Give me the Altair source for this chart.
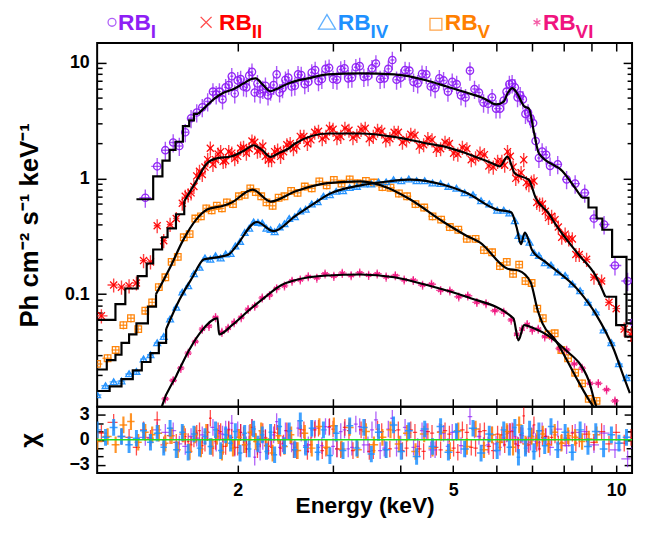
import altair as alt
import numpy as np
import pandas as pd

# ---------------- series / styling ----------------
SERIES = ["RB_I", "RB_II", "RB_IV", "RB_V", "RB_VI"]
SUBS = ["I", "II", "IV", "V", "VI"]
LEGEND_BASE = "RB"
COLORS = ["#8E1EF5", "#FF0000", "#1E90FF", "#FF8000", "#F0147F"]
SHAPES = ["circle", "M-1,-1L1,1M-1,1L1,-1", "M-1,0.8L0,-0.9L1,0.8Z", "square",
          "M0,-1L0,1M-0.87,-0.5L0.87,0.5M-0.87,0.5L0.87,-0.5"]
SIZES = [55, 40, 42, 46, 44]
REL_ERR = {"RB_I": 0.18, "RB_II": 0.14, "RB_IV": 0.05, "RB_V": 0.08, "RB_VI": 0.09}

# ---------------- data points (energy keV, flux, chi) ----------------
E_I = [1.35, 1.42, 1.47, 1.52, 1.56, 1.60, 1.64, 1.68, 1.72, 1.76,
       1.80, 1.85, 1.90, 1.95, 2.00, 2.05, 2.10, 2.15, 2.20, 2.25,
       2.30, 2.36, 2.42, 2.48, 2.55, 2.62, 2.70, 2.78, 2.86, 2.95,
       3.05, 3.15, 3.25, 3.36, 3.48, 3.60, 3.73, 3.86, 4.00, 4.15,
       4.30, 4.46, 4.63, 4.80, 4.98, 5.17, 5.37, 5.58, 5.80, 6.00,
       6.20, 6.35, 6.50, 6.65, 6.80, 6.95, 7.10, 7.30, 7.55, 7.80,
       8.10, 8.40, 8.75, 9.10, 9.50, 9.95, 10.5, 10.78]
F_I = [0.68, 1.27, 1.75, 2.04, 1.9, 2.5, 3.3, 3.7, 4.1, 4.6,
       5.6, 5.6, 6.1, 7.6, 7.0, 6.2, 7.7, 5.5, 5.4, 6.3,
       5.7, 7.9, 6.0, 7.4, 6.3, 7.8, 6.8, 8.6, 7.2, 9.0,
       7.1, 8.9, 7.4, 9.3, 7.6, 9.8, 7.3, 10.5, 7.4, 8.5,
       6.6, 7.9, 6.0, 7.0, 6.8, 5.2, 8.5, 5.5, 4.4, 4.0,
       4.7, 6.5, 6.1, 5.2, 3.6, 3.3, 2.1, 1.7, 1.28, 1.32,
       0.98, 0.9, 0.75, 0.45, 0.4, 0.177, 0.13, 0.057]
CHI_I = [0.3, 1.2, 0.9, 1.1, -0.5, -0.8, 0.4, 0.2, 0.6, 0.9,
         1.5, 0.8, 1.3, 2.0, 1.2, -0.6, 0.8, -2.1, -1.5, 0.3,
         0.1, 2.2, -0.5, 1.0, -0.9, 0.8, -0.6, 1.4, -0.7, 1.5,
         -1.1, 1.2, -0.9, 1.6, -0.6, 2.4, -1.0, 2.6, -0.5, 1.1,
         -0.8, 1.0, -1.2, 0.8, 0.9, -0.7, 2.8, 0.4, -0.6, -0.5,
         0.2, 1.0, 0.4, 0.6, -0.8, -0.3, -0.2, 1.1, -0.9, 1.3,
         -0.7, 0.9, 1.0, -0.6, 0.8, -1.2, -2.3, -1.0]
E_I_B = [1.825, 1.875, 1.925, 1.975, 2.025, 2.075, 2.125, 2.175, 2.225, 2.275,
         2.33, 2.39, 2.45, 2.515, 2.585, 2.66, 2.74, 2.82, 2.905, 3.00,
         3.10, 3.20, 3.305, 3.42, 3.54, 3.665, 3.795, 3.93, 4.075, 4.225,
         4.38, 4.545, 4.715, 4.89, 5.075, 5.27, 5.475, 5.69, 5.90, 6.10,
         6.275, 6.425, 6.575, 6.725, 6.875, 7.025, 7.20, 7.425]
F_I_B = [5.3, 4.8, 6.4, 5.4, 7.2, 6.1, 8.3, 6.6, 5.9, 5.2,
         6.4, 5.5, 7.1, 6.2, 7.9, 6.5, 8.2, 6.9, 8.8, 7.2,
         8.7, 7.3, 9.1, 7.5, 8.9, 7.2, 8.8, 7.1, 8.6, 6.8,
         8.0, 6.2, 7.3, 5.6, 6.5, 5.0, 5.9, 4.5, 5.0, 4.0,
         5.6, 6.6, 5.0, 4.8, 3.7, 3.0, 1.5, 1.6]
CHI_I_B = [-0.4, 0.7, 1.3, -1.0, 0.9, -0.6, 1.5, -0.8, -0.2, -1.3,
           0.6, -0.9, 1.1, -0.5, 1.4, -0.7, 1.2, -0.9, 1.6, -0.8,
           1.0, -1.1, 1.9, -0.6, 1.2, -1.3, 1.3, -1.0, 1.5, -0.9,
           1.1, -1.2, 1.0, -0.8, 0.9, -1.1, 1.2, -0.7, 0.6, -0.9,
           0.7, 1.1, -0.6, 0.5, -0.5, 0.8, -0.3, 0.4]

E_II = [1.12, 1.18, 1.22, 1.26, 1.30, 1.34, 1.38, 1.42, 1.46, 1.50,
        1.54, 1.58, 1.62, 1.66, 1.70, 1.74, 1.78, 1.82, 1.86, 1.90,
        1.95, 2.00, 2.05, 2.10, 2.15, 2.20, 2.25, 2.31, 2.37, 2.43,
        2.50, 2.57, 2.65, 2.73, 2.82, 2.91, 3.00, 3.10, 3.21, 3.32,
        3.44, 3.56, 3.69, 3.82, 3.96, 4.10, 4.25, 4.41, 4.57, 4.74,
        4.92, 5.10, 5.30, 5.50, 5.71, 5.93, 6.15, 6.30, 6.45, 6.60,
        6.75, 6.90, 7.05, 7.22, 7.40, 7.60, 7.82, 8.05, 8.30, 8.55,
        8.82, 9.10, 9.40, 9.70, 10.0, 10.35, 10.65]
F_II = [0.065, 0.12, 0.115, 0.118, 0.125, 0.195, 0.19, 0.39, 0.29, 0.40,
        0.45, 0.61, 0.72, 0.85, 1.15, 1.25, 1.82, 1.45, 1.7, 1.42,
        1.65, 1.55, 1.85, 1.8, 2.05, 1.75, 1.55, 1.45, 1.75, 1.7,
        2.0, 1.9, 2.3, 2.15, 2.55, 2.3, 2.65, 2.3, 2.6, 2.35,
        2.7, 2.3, 2.55, 2.2, 2.5, 2.15, 2.35, 1.95, 2.15, 1.8,
        2.0, 1.62, 1.8, 1.5, 1.6, 1.25, 1.4, 1.7, 1.25, 1.05,
        1.45, 0.88, 0.95, 0.6, 0.52, 0.47, 0.38, 0.33, 0.3, 0.22,
        0.2, 0.14, 0.13, 0.085, 0.075, 0.05, 0.045]
CHI_II = [0.8, 2.1, 0.4, 0.3, -0.9, 1.2, 0.2, 2.4, -0.6, 0.5,
          -0.3, 0.7, -0.2, 0.1, 1.1, -0.4, 2.6, -0.2, 1.0, -0.8,
          0.3, -0.9, 0.6, -0.5, 0.7, 0.1, 0.2, -0.9, 0.8, -0.4,
          0.5, -1.3, 1.2, -0.6, 1.4, -1.0, 1.3, -1.2, 1.1, -0.9,
          1.5, -1.3, 1.0, -1.1, 1.2, -1.0, 0.9, -1.4, 0.8, -1.2,
          0.7, -1.5, 0.9, -1.0, 1.1, -1.3, 0.6, 0.8, 1.0, -0.7,
          2.9, -0.6, 1.8, -1.1, 0.4, 0.3, -0.5, 0.2, 0.8, 0.1,
          0.7, -0.3, 1.0, -0.5, 0.9, -0.4, 0.3]
E_II_B = [1.60, 1.64, 1.68, 1.72, 1.76, 1.80, 1.84, 1.88, 1.925, 1.975,
          2.025, 2.075, 2.125, 2.175, 2.225, 2.28, 2.34, 2.40, 2.465, 2.535,
          2.61, 2.69, 2.775, 2.865, 2.955, 3.05, 3.155, 3.265, 3.38, 3.50,
          3.625, 3.755, 3.89, 4.03, 4.175, 4.33, 4.49, 4.655, 4.83, 5.01,
          5.20, 5.40, 5.605, 5.82, 6.04, 6.225, 6.375, 6.525, 6.675, 6.825,
          6.975, 7.135, 7.31, 7.50, 7.71, 7.935, 8.175, 8.425]
F_II_B = [0.7, 0.75, 1.05, 1.08, 1.45, 1.32, 1.62, 1.4, 1.7, 1.48,
          1.82, 1.65, 2.1, 1.72, 1.9, 1.45, 1.7, 1.55, 1.95, 1.8,
          2.3, 2.0, 2.5, 2.2, 2.7, 2.25, 2.7, 2.25, 2.65, 2.2,
          2.6, 2.15, 2.5, 2.05, 2.4, 1.9, 2.2, 1.78, 2.05, 1.65,
          1.85, 1.45, 1.65, 1.28, 1.4, 1.3, 1.55, 1.0, 1.12, 0.92,
          0.93, 0.62, 0.6, 0.46, 0.44, 0.31, 0.3, 0.22]
CHI_II_B = [0.4, -0.6, 0.8, -0.7, 0.9, -1.0, 1.1, -0.8, 1.2, -0.9,
            0.9, -1.1, 1.5, -1.2, 1.0, -0.8, 0.9, -1.0, 1.1, -1.2,
            1.3, -1.4, 1.2, -1.3, 1.6, -1.1, 1.5, -1.3, 1.2, -1.4,
            1.3, -1.2, 1.1, -1.3, 1.2, -1.1, 1.0, -0.9, 1.1, -1.0,
            1.2, -0.9, 1.0, -0.8, 0.7, -0.6, 1.0, -0.5, 0.6, -0.7,
            0.5, -0.4, 0.3, -0.5, 0.6, -0.3, 0.2, -0.4]

E_IV = [1.10, 1.14, 1.18, 1.22, 1.26, 1.30, 1.34, 1.38, 1.42, 1.46,
        1.50, 1.54, 1.58, 1.62, 1.66, 1.70, 1.74, 1.78, 1.82, 1.86,
        1.90, 1.94, 1.98, 2.02, 2.06, 2.10, 2.14, 2.18, 2.22, 2.26,
        2.30, 2.34, 2.39, 2.44, 2.49, 2.55, 2.61, 2.67, 2.74, 2.81,
        2.88, 2.96, 3.04, 3.13, 3.22, 3.32, 3.42, 3.53, 3.64, 3.76,
        3.88, 4.01, 4.14, 4.28, 4.43, 4.58, 4.74, 4.90, 5.07, 5.25,
        5.44, 5.63, 5.83, 6.03, 6.20, 6.35, 6.50, 6.60, 6.70, 6.80,
        6.92, 7.05, 7.20, 7.38, 7.58, 7.80, 8.05, 8.30, 8.58, 8.87,
        9.17, 9.48, 9.80, 10.12, 10.45]
F_IV = [0.0135, 0.0162, 0.0175, 0.0178, 0.0205, 0.0215, 0.0275, 0.030, 0.038, 0.043,
        0.061, 0.077, 0.104, 0.118, 0.15, 0.17, 0.205, 0.2, 0.214, 0.205,
        0.222, 0.224, 0.26, 0.285, 0.34, 0.37, 0.42, 0.415, 0.41, 0.37,
        0.36, 0.345, 0.38, 0.405, 0.45, 0.465, 0.52, 0.54, 0.6, 0.625,
        0.70, 0.72, 0.77, 0.78, 0.83, 0.85, 0.89, 0.89, 0.93, 0.93,
        0.97, 0.95, 0.985, 0.95, 0.95, 0.91, 0.9, 0.85, 0.82, 0.75,
        0.72, 0.64, 0.6, 0.53, 0.53, 0.5, 0.43, 0.32, 0.3, 0.32,
        0.28, 0.228, 0.215, 0.186, 0.178, 0.155, 0.145, 0.122, 0.107, 0.085,
        0.07, 0.049, 0.038, 0.025, 0.019]
CHI_IV = [1.2, 0.3, 1.5, 0.4, -0.6, 0.2, 1.1, -0.3, 0.8, -0.9,
          1.4, -1.2, 0.9, -1.5, 0.7, -1.0, 0.4, -0.8, 1.2, -1.3,
          0.6, -0.4, 1.0, -1.6, 0.8, -1.1, 1.3, -0.5, 0.6, -1.4,
          0.9, -1.8, 1.6, -0.7, 1.1, -1.2, 2.3, -0.9, 1.4, -1.5,
          1.2, -1.9, 0.8, -1.3, 1.7, -1.0, 1.5, -1.7, 0.9, -1.2,
          1.8, -1.4, 1.1, -2.0, 1.3, -0.8, 1.6, -1.5, 1.0, -1.1,
          1.4, -1.6, 0.7, -1.3, 1.2, -0.9, 1.5, -2.1, 0.8, -1.0,
          1.3, -1.4, 1.1, -0.7, 1.6, -1.2, 0.9, -1.5, 1.2, -0.8,
          1.0, -1.1, 0.6, -0.4, 0.3]

E_V = [1.10, 1.15, 1.19, 1.23, 1.27, 1.31, 1.35, 1.39, 1.43, 1.47,
       1.51, 1.55, 1.59, 1.63, 1.67, 1.71, 1.75, 1.79, 1.83, 1.87,
       1.91, 1.96, 2.01, 2.06, 2.11, 2.16, 2.21, 2.26, 2.32, 2.38,
       2.44, 2.51, 2.58, 2.66, 2.74, 2.83, 2.92, 3.01, 3.11, 3.22,
       3.33, 3.45, 3.57, 3.70, 3.83, 3.97, 4.11, 4.26, 4.42, 4.58,
       4.75, 4.93, 5.11, 5.30, 5.50, 5.70, 5.90, 6.10, 6.28, 6.45,
       6.62, 6.80, 6.98, 7.15, 7.32, 7.50, 7.70, 7.92, 8.15, 8.40,
       8.65, 8.90, 9.20]
F_V = [0.025, 0.028, 0.033, 0.054, 0.062, 0.05, 0.072, 0.085, 0.115, 0.14,
       0.19, 0.21, 0.31, 0.33, 0.45, 0.47, 0.55, 0.53, 0.58, 0.55,
       0.62, 0.6, 0.7, 0.72, 0.82, 0.76, 0.7, 0.62, 0.58, 0.68,
       0.7, 0.78, 0.75, 0.85, 0.82, 0.94, 0.87, 0.97, 0.9, 0.98,
       0.91, 0.95, 0.92, 0.84, 0.83, 0.74, 0.7, 0.6, 0.56, 0.47,
       0.44, 0.38, 0.36, 0.3, 0.3, 0.24, 0.23, 0.175, 0.19, 0.15,
       0.18, 0.13, 0.125, 0.075, 0.062, 0.045, 0.046, 0.033, 0.028, 0.021,
       0.017, 0.0125, 0.012]
CHI_V = [-0.2, 0.4, -0.6, 1.8, 2.2, -0.3, 0.9, 0.6, 0.8, -0.4,
         0.5, -1.2, 0.7, -1.4, 0.6, -1.1, 0.9, -0.8, 0.4, -1.5,
         0.2, -1.0, 0.3, -0.6, 0.9, -0.2, 1.1, -0.7, -1.6, 0.5,
         -0.8, 0.6, -1.3, 0.8, -1.0, 1.6, -0.9, 1.7, -1.1, 1.5,
         -1.2, 1.0, -0.6, 0.3, 1.2, -0.5, 0.8, -1.4, 0.7, -1.0,
         0.9, -1.3, 1.1, -0.8, 1.3, -1.2, 0.6, -0.3, 1.0, -0.9,
         1.8, -0.5, 0.4, 0.2, 0.7, -0.6, 0.9, -0.4, 0.5, 0.3,
         -0.2, 0.1, 0.6]

E_VI = [1.47, 1.52, 1.57, 1.62, 1.67, 1.72, 1.77, 1.82, 1.87, 1.92,
        1.97, 2.03, 2.09, 2.15, 2.22, 2.29, 2.36, 2.44, 2.52, 2.61,
        2.70, 2.80, 2.90, 3.01, 3.12, 3.24, 3.36, 3.49, 3.62, 3.76,
        3.91, 4.06, 4.22, 4.39, 4.56, 4.74, 4.93, 5.12, 5.32, 5.53,
        5.75, 5.97, 6.20, 6.40, 6.55, 6.70, 6.85, 7.00, 7.18, 7.38,
        7.60, 7.85, 8.10, 8.37, 8.65, 8.95, 9.27, 9.60, 9.95]
F_VI = [0.0125, 0.018, 0.023, 0.031, 0.039, 0.05, 0.053, 0.063, 0.047, 0.051,
        0.057, 0.063, 0.074, 0.079, 0.093, 0.098, 0.112, 0.118, 0.13, 0.133,
        0.142, 0.138, 0.15, 0.143, 0.152, 0.145, 0.153, 0.146, 0.15, 0.141,
        0.145, 0.133, 0.132, 0.12, 0.122, 0.108, 0.107, 0.095, 0.097, 0.085,
        0.083, 0.072, 0.07, 0.06, 0.045, 0.05, 0.055, 0.049, 0.05, 0.043,
        0.042, 0.034, 0.033, 0.025, 0.023, 0.017, 0.017, 0.015, 0.012]

# ---------------- folded model curves ----------------
STEP_LO = {
    "RB_I": ([1.30, 1.396, 1.452, 1.497, 1.535, 1.584, 1.627, 1.66, 1.69],
             [0.66, 1.04, 1.42, 1.76, 2.07, 2.82, 3.16, 3.6, 3.6]),
    "RB_II": ([1.099, 1.189, 1.24, 1.307, 1.358, 1.396, 1.45, 1.484, 1.538, 1.593],
              [0.06, 0.082, 0.112, 0.143, 0.184, 0.243, 0.31, 0.37, 0.49, 0.635]),
    "RB_IV": ([1.099, 1.16, 1.22, 1.28, 1.33, 1.38, 1.43, 1.475],
              [0.0146, 0.016, 0.0185, 0.022, 0.026, 0.031, 0.038, 0.05]),
    "RB_V": ([1.099, 1.146, 1.189, 1.22, 1.26, 1.30, 1.365, 1.413],
             [0.0224, 0.027, 0.030, 0.038, 0.045, 0.056, 0.078, 0.1]),
}
STEP_HI = {
    "RB_I": ([8.65, 8.89, 9.2, 9.43, 9.83, 10.45, 10.8],
             [0.68, 0.56, 0.45, 0.36, 0.21, 0.056, 0.056]),
    "RB_II": ([9.55, 10.0, 10.4, 10.8], [0.095, 0.054, 0.043, 0.043]),
}
SMOOTH = {
    "RB_I": ([1.69, 1.75, 1.807, 1.886, 1.966, 2.05, 2.12, 2.16, 2.22, 2.30,
              2.36, 2.48, 2.554, 2.7, 2.934, 3.373, 3.892, 4.472, 4.864, 5.29,
              5.7, 6.005, 6.2, 6.3, 6.43, 6.55, 6.76, 6.9, 7.05, 7.2,
              7.96, 8.52, 8.65],
             [3.6, 4.2, 4.83, 5.5, 5.9, 6.6, 7.2, 7.3, 6.5, 5.65,
              5.9, 6.6, 6.9, 7.3, 7.9, 8.05, 7.9, 7.0, 6.2, 5.5,
              4.9, 4.35, 4.6, 5.4, 6.0, 5.5, 4.2, 4.0, 2.5, 1.64,
              1.15, 0.75, 0.68]),
    "RB_II": ([1.593, 1.68, 1.75, 1.82, 1.95, 2.06, 2.14, 2.22, 2.30, 2.38,
               2.48, 2.554, 2.934, 3.37, 3.89, 4.47, 4.86, 5.29, 5.9, 6.1,
               6.3, 6.5, 6.9, 7.1, 7.5, 7.73, 8.52, 9.16, 9.55],
              [0.635, 0.96, 1.33, 1.48, 1.55, 1.75, 1.93, 1.75, 1.53, 1.65,
               1.8, 2.0, 2.44, 2.44, 2.28, 2.0, 1.86, 1.64, 1.35, 1.27,
               1.54, 1.1, 0.97, 0.68, 0.5, 0.40, 0.22, 0.145, 0.095]),
    "RB_IV": ([1.475, 1.56, 1.65, 1.733, 1.852, 1.924, 1.98, 2.17, 2.33, 2.55,
               2.81, 2.93, 3.37, 3.78, 4.16, 4.8, 5.29, 6.0, 6.4, 6.55,
               6.67, 6.78, 7.0, 7.4, 8.52, 9.16, 9.91, 10.3, 10.6],
              [0.05, 0.089, 0.14, 0.2, 0.21, 0.22, 0.254, 0.42, 0.35, 0.47,
               0.635, 0.72, 0.87, 0.94, 0.975, 0.88, 0.75, 0.54, 0.51, 0.376,
               0.27, 0.34, 0.238, 0.19, 0.108, 0.068, 0.033, 0.02, 0.014]),
    "RB_V": ([1.413, 1.5, 1.584, 1.676, 1.76, 1.88, 1.95, 2.13, 2.30, 2.55,
              2.93, 3.37, 3.78, 4.16, 4.8, 5.29, 5.6, 6.3, 6.6, 6.95,
              7.16, 7.31, 7.73, 8.41, 8.89, 9.1, 9.4],
             [0.1, 0.17, 0.29, 0.44, 0.54, 0.58, 0.62, 0.8, 0.63, 0.77,
              0.91, 0.94, 0.83, 0.66, 0.42, 0.32, 0.28, 0.166, 0.16, 0.127,
              0.073, 0.056, 0.040, 0.0196, 0.0124, 0.0105, 0.008]),
    "RB_VI": ([1.43, 1.453, 1.539, 1.627, 1.72, 1.835, 1.848, 1.952, 2.1, 2.25,
               2.41, 2.55, 2.93, 3.37, 3.89, 4.47, 5.29, 6.46, 6.6, 6.76,
               7.03, 7.97, 8.9, 9.1, 9.3],
              [0.0085, 0.0112, 0.0196, 0.033, 0.049, 0.062, 0.045, 0.054, 0.073, 0.095,
               0.12, 0.132, 0.145, 0.148, 0.14, 0.12, 0.095, 0.062, 0.04, 0.054,
               0.051, 0.0346, 0.018, 0.0124, 0.009]),
}

# ---------------- tick values ----------------
X_TICKS = [2, 3, 4, 5, 6, 7, 8, 9, 10]
X_LABELS = [2, 5, 10]
Y_TICKS = [0.02, 0.03, 0.04, 0.05, 0.06, 0.07, 0.08, 0.09, 0.1,
           0.2, 0.3, 0.4, 0.5, 0.6, 0.7, 0.8, 0.9, 1,
           2, 3, 4, 5, 6, 7, 8, 9, 10]
Y_LABELS = [0.1, 1, 10]
R_TICKS = [-3, -2, -1, 0, 1, 2, 3]
R_LABELS = [-3, 0, 3]

# ---------------- layout constants ----------------
W, H1, H2 = 540, 367, 67
X_DOMAIN = [1.1, 10.70]
Y_DOMAIN = [0.0107, 14.7]
R_DOMAIN = [-4, 4]
FONT = "Liberation Sans"
LEG_SYM_X = [15, 110, 232, 342, 444]
LEG_RB_X = [21, 123, 243, 351, 450]
LEG_SUB_X = [54, 156, 276, 384, 483]
LEG_SYM_SIZE = [64, 121, 300, 144, 64]


def bin_edges(E):
    E = np.asarray(E, dtype=float)
    mid = np.sqrt(E[:-1] * E[1:])
    lo = np.concatenate([[E[0] ** 2 / mid[0]], mid])
    hi = np.concatenate([mid, [E[-1] ** 2 / mid[-1]]])
    return lo, hi


DATA = {
    "RB_I": [(E_I, F_I, CHI_I), (E_I_B, F_I_B, CHI_I_B)],
    "RB_II": [(E_II, F_II, CHI_II), (E_II_B, F_II_B, CHI_II_B)],
    "RB_IV": [(E_IV, F_IV, CHI_IV)],
    "RB_V": [(E_V, F_V, CHI_V)],
    "RB_VI": [(E_VI, F_VI, [None] * len(E_VI))],
}


def merged(s):
    rows = [(e, f, c) for (E, F, C) in DATA[s] for e, f, c in zip(E, F, C)]
    rows.sort(key=lambda r: r[0])
    return rows


pts_rows, res_rows = [], []
for s in ["RB_I", "RB_II", "RB_V", "RB_IV", "RB_VI"]:
    rows = merged(s)
    lo, hi = bin_edges([r[0] for r in rows])
    e = REL_ERR[s]
    for i, (x, f, c) in enumerate(rows):
        pts_rows.append(dict(series=s, E=x, F=f, Elo=lo[i], Ehi=hi[i],
                             Flo=f * (1 - e), Fhi=f * (1 + e)))
        if c is not None:
            res_rows.append(dict(series=s, E=x, Elo=lo[i], Ehi=hi[i], chi=c,
                                 clo=c - 1, chi_hi=c + 1))
pts = pd.DataFrame(pts_rows)
res = pd.DataFrame(res_rows)
res_back = res[res["series"].isin(["RB_I", "RB_II"])].reset_index(drop=True)
res_orange = res[res["series"] == "RB_V"].reset_index(drop=True)
res_blue = res[res["series"] == "RB_IV"].reset_index(drop=True)

step_rows = []
for d, tag in ((STEP_LO, "lo"), (STEP_HI, "hi")):
    for s, (E, F) in d.items():
        for x, f in zip(E, F):
            step_rows.append(dict(seg=s + tag, E=x, F=f))
steps = pd.DataFrame(step_rows)
smooth = pd.DataFrame([dict(series=s, E=x, F=f)
                       for s, (E, F) in SMOOTH.items() for x, f in zip(E, F)])

# ---------------- scales / encodings ----------------
XS = alt.Scale(type="log", domain=X_DOMAIN, nice=False)
YS = alt.Scale(type="log", domain=Y_DOMAIN, nice=False)
RS = alt.Scale(domain=R_DOMAIN, nice=False, zero=False)
color = alt.Color("series:N", scale=alt.Scale(domain=SERIES, range=COLORS), legend=None)
shape = alt.Shape("series:N", scale=alt.Scale(domain=SERIES, range=SHAPES), legend=None)
size = alt.Size("series:N", scale=alt.Scale(domain=SERIES, range=SIZES), legend=None)

tick_common = dict(labels=False, domain=False, grid=False, title=None,
                   tickColor="black", tickWidth=1.5)
y_major = {"condition": {"test": "datum.value == 0.1 || datum.value == 1 || datum.value == 10",
                         "value": 9}, "value": 5}
r_major = {"condition": {"test": "datum.value == -3 || datum.value == 0 || datum.value == 3",
                         "value": 8}, "value": 6}

# ---------------- main panel ----------------
vbars = alt.Chart(pts).mark_rule(strokeWidth=1.4, opacity=0.75, clip=True).encode(
    x=alt.X("E:Q", scale=XS, axis=None),
    y=alt.Y("Flo:Q", scale=YS, axis=None), y2="Fhi:Q", color=color)
hbars = alt.Chart(pts).mark_rule(strokeWidth=1.4, opacity=0.75, clip=True).encode(
    x=alt.X("Elo:Q", scale=XS, axis=None), x2="Ehi:Q",
    y=alt.Y("F:Q", scale=YS, axis=None), color=color)
points = alt.Chart(pts).mark_point(filled=False, strokeWidth=1.3, opacity=0.95, clip=True).encode(
    x=alt.X("E:Q", scale=XS, axis=None),
    y=alt.Y("F:Q", scale=YS, axis=alt.Axis(
        orient="left", values=Y_LABELS, format="~g", ticks=False, domain=False, grid=False,
        labelPadding=8, minExtent=33, maxExtent=33, labelFontSize=18,
        title="Ph cm\u207b\u00b2 s\u207b\u00b9 keV\u207b\u00b9", titlePadding=22, titleFontSize=26)),
    color=color, shape=shape, size=size)
model_step = alt.Chart(steps).mark_line(color="black", strokeWidth=2.2,
                                        interpolate="step-after", clip=True).encode(
    x=alt.X("E:Q", scale=XS, axis=None), y=alt.Y("F:Q", scale=YS, axis=None), detail="seg:N")
model_smooth = alt.Chart(smooth).mark_line(color="black", strokeWidth=2.2,
                                           interpolate="monotone", clip=True).encode(
    x=alt.X("E:Q", scale=XS, axis=None), y=alt.Y("F:Q", scale=YS, axis=None), detail="series:N")
carrier_a = alt.Chart(pts).mark_point(opacity=0).encode(
    x=alt.X("E:Q", scale=XS, axis=alt.Axis(orient="top", offset=-H1, values=X_TICKS,
                                           tickSize=8, **tick_common)),
    y=alt.Y("F:Q", scale=YS, axis=alt.Axis(orient="right", offset=-W, values=Y_TICKS,
                                           tickSize=y_major, **tick_common)))
carrier_b = alt.Chart(pts).mark_point(opacity=0).encode(
    x=alt.X("E:Q", scale=XS, axis=alt.Axis(orient="bottom", offset=-H1, values=X_TICKS,
                                           tickSize=8, **tick_common)),
    y=alt.Y("F:Q", scale=YS, axis=alt.Axis(orient="left", offset=-W, values=Y_TICKS,
                                           tickSize=y_major, **tick_common)))

legend_layers = []
for i, s in enumerate(SERIES):
    c = COLORS[i]
    one = pd.DataFrame({"series": [s], "base": [LEGEND_BASE], "sub": [SUBS[i]]})
    sym_y = -19 if s == "RB_V" else -21
    legend_layers.append(alt.Chart(one).mark_point(
        shape=SHAPES[i], size=LEG_SYM_SIZE[i], filled=False, color=c, strokeWidth=1.3).encode(
        x=alt.value(LEG_SYM_X[i]), y=alt.value(sym_y)))
    legend_layers.append(alt.Chart(one).mark_text(
        font=FONT, fontSize=23, fontWeight="bold", align="left", baseline="alphabetic",
        color=c).encode(x=alt.value(LEG_RB_X[i]), y=alt.value(-13), text="base:N"))
    legend_layers.append(alt.Chart(one).mark_text(
        font=FONT, fontSize=19, fontWeight="bold", align="left", baseline="alphabetic",
        color=c).encode(x=alt.value(LEG_SUB_X[i]), y=alt.value(-5), text="sub:N"))

main = alt.layer(vbars, hbars, points, model_step, model_smooth, carrier_a, carrier_b,
                 *legend_layers).resolve_axis(x="independent", y="independent").properties(
    width=W, height=H1)

# ---------------- residual panel ----------------
rv_back = alt.Chart(res_back).mark_rule(strokeWidth=1.3, opacity=0.7, clip=True).encode(
    x=alt.X("E:Q", scale=XS, axis=alt.Axis(
        orient="bottom", values=X_LABELS, format="~g", ticks=False, domain=False, grid=False,
        labelPadding=9, labelFontSize=18, labelFlush=False, labelOverlap=False,
        title="Energy (keV)", titleFontSize=23, titlePadding=-5)),
    y=alt.Y("clo:Q", scale=RS, axis=alt.Axis(
        orient="left", values=R_LABELS, format="d", ticks=False, domain=False, grid=False,
        labelPadding=8, minExtent=33, maxExtent=33, labelFontSize=18,
        title="\u03c7", titlePadding=22, titleFontSize=26)),
    y2="chi_hi:Q", color=color)
rh_back = alt.Chart(res_back).mark_rule(strokeWidth=1.3, opacity=0.7, clip=True).encode(
    x=alt.X("Elo:Q", scale=XS, axis=None), x2="Ehi:Q",
    y=alt.Y("chi:Q", scale=RS, axis=None), color=color)
rv_orange = alt.Chart(res_orange).mark_rule(strokeWidth=2.2, opacity=0.85, clip=True).encode(
    x=alt.X("E:Q", scale=XS, axis=None),
    y=alt.Y("clo:Q", scale=RS, axis=None), y2="chi_hi:Q", color=color)
rh_orange = alt.Chart(res_orange).mark_rule(strokeWidth=1.5, opacity=0.85, clip=True).encode(
    x=alt.X("Elo:Q", scale=XS, axis=None), x2="Ehi:Q",
    y=alt.Y("chi:Q", scale=RS, axis=None), color=color)
rv_blue = alt.Chart(res_blue).mark_rule(strokeWidth=3.0, opacity=0.85, clip=True).encode(
    x=alt.X("E:Q", scale=XS, axis=None),
    y=alt.Y("clo:Q", scale=RS, axis=None), y2="chi_hi:Q", color=color)
rh_blue = alt.Chart(res_blue).mark_rule(strokeWidth=1.5, opacity=0.85, clip=True).encode(
    x=alt.X("Elo:Q", scale=XS, axis=None), x2="Ehi:Q",
    y=alt.Y("chi:Q", scale=RS, axis=None), color=color)
zero = alt.Chart(pd.DataFrame({"v": [0]})).mark_rule(color="#22DD22", strokeWidth=1.6).encode(
    y=alt.Y("v:Q", scale=RS, axis=None))
rcar_a = alt.Chart(res).mark_point(opacity=0).encode(
    x=alt.X("E:Q", scale=XS, axis=alt.Axis(orient="top", offset=-H2, values=X_TICKS,
                                           tickSize=8, **tick_common)),
    y=alt.Y("chi:Q", scale=RS, axis=alt.Axis(orient="right", offset=-W, values=R_TICKS,
                                             tickSize=r_major, **tick_common)))
rcar_b = alt.Chart(res).mark_point(opacity=0).encode(
    x=alt.X("E:Q", scale=XS, axis=alt.Axis(orient="bottom", offset=-H2, values=X_TICKS,
                                           tickSize=8, **tick_common)),
    y=alt.Y("chi:Q", scale=RS, axis=alt.Axis(orient="left", offset=-W, values=R_TICKS,
                                             tickSize=r_major, **tick_common)))
resid = alt.layer(rv_back, rh_back, rv_orange, rh_orange, rv_blue, rh_blue, zero,
                  rcar_a, rcar_b).resolve_axis(
    x="independent", y="independent").properties(width=W, height=H2)

chart = alt.vconcat(main, resid, spacing=0, bounds="flush").properties(
    padding={"left": 8, "top": 0, "right": 0, "bottom": 0}
).configure_view(stroke="black", strokeWidth=2).configure_axis(
    labelFont=FONT, titleFont=FONT, labelFontWeight="bold", titleFontWeight="bold",
    labelColor="black", titleColor="black")

chart.save("out.html", embed_options={"renderer": "svg", "actions": False})
